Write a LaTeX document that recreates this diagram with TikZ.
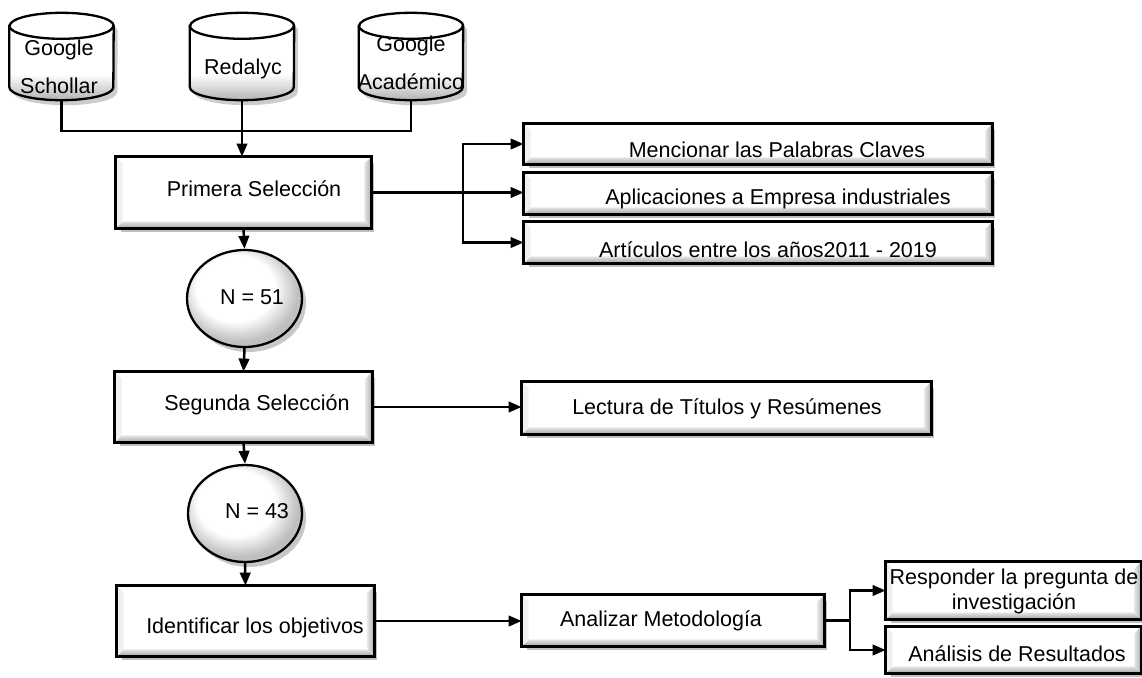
\documentclass[tikz,border=0pt]{standalone}
\usepackage{fontspec}
\setmainfont{Liberation Sans}
\usetikzlibrary{shapes.geometric,shadows,arrows.meta}
\pgfdeclareverticalshading{cylshade}{100bp}{color(0bp)=(gray!60); color(25bp)=(gray!60); color(31bp)=(gray!35); color(40bp)=(white); color(100bp)=(white)}
\pgfdeclareradialshading{ovshade}{\pgfpoint{-6bp}{8bp}}{color(0bp)=(white); color(17bp)=(white); color(26bp)=(gray!50); color(50bp)=(gray!50)}
\newcommand\cylbody[3]{% node, xoff, yoff
  ([shift={(#2,#3)},yshift=-13pt]#1.north west) -- ([shift={(#2,#3)},yshift=13pt]#1.south west)
  arc[start angle=180,end angle=360,x radius=52pt,y radius=13pt]
  -- ([shift={(#2,#3)},yshift=-13pt]#1.north east)
  arc[start angle=0,end angle=180,x radius=52pt,y radius=13pt] -- cycle}
\newcommand\drawcyl[1]{%
  \fill[black,opacity=.2] \cylbody{#1}{4pt}{-5pt};
  \path[draw=black,line width=2.3pt,shading=cylshade] \cylbody{#1}{0pt}{0pt};
  \draw[line width=2.3pt] ([yshift=-13pt]#1.north west) arc[start angle=180,end angle=360,x radius=52pt,y radius=13pt];
}
\newcommand\bevel[1]{%
  \shade[top color=gray!20, bottom color=gray!75] (#1.south west) -- (#1.south east) -- ([shift={(-7pt,7pt)}]#1.south east) -- ([shift={(7pt,7pt)}]#1.south west) -- cycle;
  \shade[left color=gray!20, right color=gray!65] (#1.south east) -- (#1.north east) -- ([shift={(-7pt,-7pt)}]#1.north east) -- ([shift={(-7pt,7pt)}]#1.south east) -- cycle;
  \fill[gray!12] (#1.south west) -- (#1.north west) -- ([shift={(7pt,-7pt)}]#1.north west) -- ([shift={(7pt,7pt)}]#1.south west) -- cycle;
  \draw[line width=2.8pt] (#1.south west) rectangle (#1.north east);
}
\begin{document}
\begin{tikzpicture}[x=1pt,y=-1pt,
  tx/.style={inner sep=0pt, font=\fontsize{21.5}{25}\selectfont, text height=13.5pt, text depth=1pt},
  txm/.style={inner sep=0pt, align=center},
  cylbox/.style={rectangle, draw=none, inner sep=0pt, minimum width=104pt, minimum height=87pt},
  bx/.style={rectangle, draw=none, fill=white, inner sep=0pt, outer sep=1.4pt,
    drop shadow={shadow xshift=4pt, shadow yshift=-5pt, fill=black, opacity=0.25}},
  ov/.style={ellipse, draw=black, line width=2.3pt, inner sep=0pt, shading=ovshade,
    drop shadow={shadow xshift=4pt, shadow yshift=-5pt, fill=black, opacity=0.22}},
  ln/.style={line width=2.5pt},
  arr/.style={line width=2.5pt, -{Triangle[length=13pt,width=10.5pt]}}
]
\useasboundingbox (0,0) rectangle (1142,677);

% databases
\node[cylbox] (gs) at (61.5,56.5) {};
\node[cylbox] (red) at (242,56.5) {};
\node[cylbox] (ga) at (411,56.5) {};
\drawcyl{gs}\drawcyl{red}\drawcyl{ga}
\node[txm, font=\fontsize{21.5}{38}\selectfont] (gst) at (59,67) {Google\\Schollar};
\node[tx] (redt) at (243,68) {Redalyc};
\node[txm, font=\fontsize{21.5}{38}\selectfont] (gat) at (411,63) {Google\\Académico};

% boxes
\node[bx, minimum width=253pt, minimum height=69pt] (prim) at (243.5,192.5) {};
\node[bx, minimum width=255pt, minimum height=68pt] (seg) at (243.5,407) {};
\node[bx, minimum width=255pt, minimum height=68pt] (ident) at (245.5,621) {};
\node[bx, minimum width=466pt, minimum height=38pt] (m1) at (758,144) {};
\node[bx, minimum width=466pt, minimum height=39pt] (m2) at (758,193.5) {};
\node[bx, minimum width=466pt, minimum height=39pt] (m3) at (758,242.5) {};
\node[bx, minimum width=407pt, minimum height=50pt] (lect) at (726.5,408) {};
\node[bx, minimum width=300pt, minimum height=49pt] (anal) at (673,620.5) {};
\node[bx, minimum width=253pt, minimum height=55pt] (resp) at (1013.5,590.5) {};
\node[bx, minimum width=253pt, minimum height=44pt] (anres) at (1013.5,650) {};
\foreach \b in {prim,seg,ident,m1,m2,m3,lect,anal,resp,anres} {\bevel{\b}}

\node[ov, minimum width=115pt, minimum height=97pt] (n51) at (244.5,298.5) {};
\node[ov, minimum width=114pt, minimum height=97pt] (n43) at (245,513.5) {};

% texts
\node[tx] (primt) at (254,190) {Primera Selección};
\node[tx] (n51t) at (252,298) {N = 51};
\node[tx] (segt) at (257,404) {Segunda Selección};
\node[tx] (n43t) at (257,512) {N = 43};
\node[tx] (identt) at (255,627) {Identificar los objetivos};
\node[tx] (m1t) at (777,151) {Mencionar las Palabras Claves};
\node[tx] (m2t) at (778,198) {Aplicaciones a Empresa industriales};
\node[tx] (m3t) at (768,251) {Artículos entre los años2011 - 2019};
\node[tx] (lectt) at (727,408) {Lectura de Títulos y Resúmenes};
\node[tx] (analt) at (661,620) {Analizar Metodología};
\node[txm, font=\fontsize{21.5}{25}\selectfont] (respt) at (1014,591) {Responder la pregunta de\\investigación};
\node[tx] (anrest) at (1017,655) {Análisis de Resultados};

% connectors
\coordinate (bus) at (0,131);
\coordinate (b1) at (463,0);
\coordinate (b2) at (850,0);
\draw[ln] (gs.south) -- (gs.south |- bus) -- (ga.south |- bus) -- (ga.south);
\draw[arr] (red.south) -- (red.south |- prim.north);
\draw[arr] (prim.south) -- (n51.north);
\draw[arr] (n51.south) -- (seg.north);
\draw[arr] (seg.south) -- (n43.north);
\draw[arr] (n43.south) -- (ident.north);

\draw[arr] (prim.east) -- (prim.east -| m2.west);
\draw[arr] (prim.east -| b1) |- (m1.west);
\draw[arr] (prim.east -| b1) |- (m3.west);

\draw[arr] (seg.east) -- (seg.east -| lect.west);
\draw[arr] (ident.east) -- (ident.east -| anal.west);

\draw[ln] (anal.east) -- (anal.east -| b2);
\draw[arr] (anal.east -| b2) |- (resp.west);
\draw[arr] (anal.east -| b2) |- (anres.west);
\end{tikzpicture}
\end{document}
